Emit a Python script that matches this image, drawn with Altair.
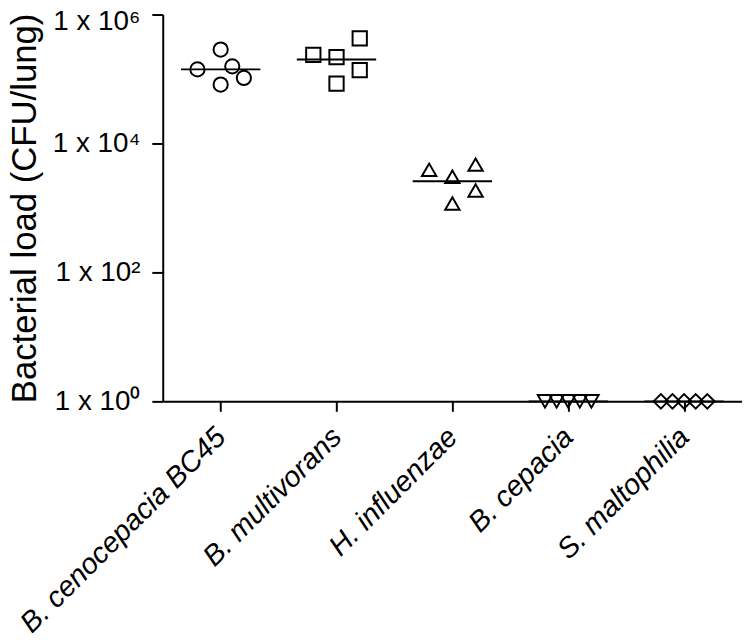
import altair as alt
import pandas as pd

categories = ["B. cenocepacia BC45", "B. multivorans", "H. influenzae", "B. cepacia", "S. maltophilia"]

# CFU/lung per animal
cenocepacia = [1.41e5, 2.86e5, 1.57e5, 8.2e4, 1.04e5]
multivorans = [2.37e5, 2.18e5, 4.28e5, 1.37e5, 8.5e4]
influenzae = [3.9e3, 3.05e3, 4.7e3, 1.17e3, 1.86e3]
cepacia = [1, 1, 1, 1, 1]
maltophilia = [1, 1, 1, 1, 1]

# column slot of each dot in the scatter-dot layout
slots_cenocepacia = [-2, 0, 1, 0, 2]
slots_multivorans = [-2, 0, 2, 2, 0]
slots_influenzae = [-2, 0, 2, 0, 2]
slots_cepacia = [-2, -1, 0, 1, 2]
slots_maltophilia = [-2, -1, 0, 1, 2]

medians = [1.41e5, 2.0e5, 2.6e3, 1, 1]

shapes = ["circle", "square", "triangle-up", "triangle-down", "diamond"]
sizes = [205, 215, 260, 240, 330]

y_ticks = [1, 100, 10000, 1000000]
y_tick_labels = ["1 x 10\u2070", "1 x 10\u00b2", "1 x 10\u2074", "1 x 10\u2076"]

FONT = "Liberation Sans"

series = [cenocepacia, multivorans, influenzae, cepacia, maltophilia]
slots = [slots_cenocepacia, slots_multivorans, slots_influenzae, slots_cepacia, slots_maltophilia]
rows = []
for cat, vals, sl in zip(categories, series, slots):
    for v, s in zip(vals, sl):
        rows.append({"category": cat, "value": v, "slot": s})
points_df = pd.DataFrame(rows)
median_df = pd.DataFrame({"category": categories, "median": medians})

label_expr = " : ".join(
    f"datum.value == {v} ? '{l}'" for v, l in zip(y_ticks, y_tick_labels)
) + " : ''"

x_axis = alt.Axis(
    title=None,
    labelAngle=-45,
    labelAlign="right",
    labelBaseline="top",
    labelFont=FONT,
    labelFontSize=29,
    labelFontStyle="italic",
    labelColor="black",
    labelPadding=11,
    labelOffset=-10,
    labelLimit=600,
    tickSize=10,
    tickWidth=2,
    tickColor="black",
    domainColor="black",
    domainWidth=2,
    grid=False,
)

y_axis = alt.Axis(
    title="Bacterial load (CFU/lung)",
    values=y_ticks,
    labelExpr=label_expr,
    labelFont=FONT,
    labelFontSize=28,
    labelColor="black",
    labelPadding=12,
    labelOffset={"condition": {"test": "datum.value >= 1000000", "value": 7}, "value": 0},
    tickSize=11,
    tickWidth=2,
    tickColor="black",
    domainColor="black",
    domainWidth=2,
    grid=False,
    titleFont=FONT,
    titleFontSize=35,
    titleFontWeight="normal",
    titleColor="black",
    titlePadding=10,
)

x_scale = alt.Scale(type="point", padding=0.5)
y_scale = alt.Scale(type="log", domain=[1, 1e6], nice=False)

points = alt.Chart(points_df).mark_point(filled=False, strokeWidth=2, color="black", opacity=1).encode(
    x=alt.X("category:N", sort=categories, scale=x_scale, axis=x_axis),
    xOffset=alt.XOffset("slot:Q", scale=alt.Scale(domain=[-2, 2], range=[-23.4, 23.4])),
    y=alt.Y("value:Q", scale=y_scale, axis=y_axis),
    shape=alt.Shape("category:N", scale=alt.Scale(domain=categories, range=shapes), legend=None),
    size=alt.Size("category:N", scale=alt.Scale(domain=categories, range=sizes), legend=None),
)

median_ticks = alt.Chart(median_df).mark_tick(orient="horizontal", size=80, thickness=2, color="black", opacity=1).encode(
    x=alt.X("category:N", sort=categories, scale=x_scale, axis=x_axis),
    y=alt.Y("median:Q", scale=y_scale, axis=y_axis),
)

chart = alt.layer(points, median_ticks).properties(
    width=584,
    height=390,
    padding={"left": 156, "top": 4, "right": 0, "bottom": 238},
    autosize=alt.AutoSizeParams(type="none"),
    background="white",
).configure_view(stroke=None)

chart.save("out.html", embed_options={"renderer": "svg", "actions": False})
